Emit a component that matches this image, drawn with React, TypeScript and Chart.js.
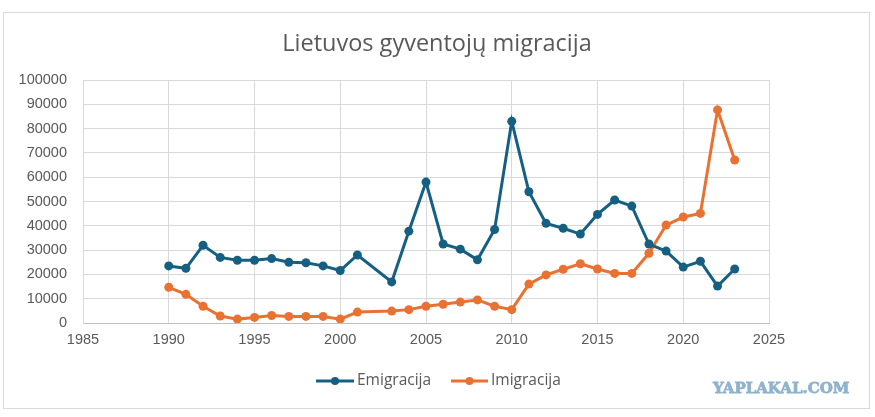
import React, { useEffect, useRef } from "react";
import { Chart, registerables } from "chart.js";

Chart.register(...registerables);

const years = [
  1990, 1991, 1992, 1993, 1994, 1995, 1996, 1997, 1998, 1999, 2000, 2001,
  2003, 2004, 2005, 2006, 2007, 2008, 2009, 2010, 2011, 2012, 2013, 2014,
  2015, 2016, 2017, 2018, 2019, 2020, 2021, 2022, 2023,
];

const emigracija = [
  23500, 22500, 32000, 27000, 25800, 25800, 26500, 25000, 24800, 23500, 21600,
  28000, 16900, 37800, 58000, 32500, 30400, 26000, 38500, 83000, 54000, 41000,
  39000, 36600, 44700, 50600, 48100, 32500, 29600, 23000, 25400, 15200, 22200,
];

const imigracija = [
  14700, 11800, 6900, 2900, 1600, 2300, 3100, 2700, 2700, 2700, 1600, 4500,
  4900, 5500, 6900, 7700, 8600, 9500, 6900, 5500, 16000, 19800, 22100, 24400,
  22200, 20400, 20400, 28700, 40300, 43600, 45100, 87700, 67100,
];

const seriesNames = ["Emigracija", "Imigracija"];
const seriesColors = ["#156082", "#E97132"];
const titleText = "Lietuvos gyventojų migracija";
const watermarkText = "YAPLAKAL.COM";

const overlayPlugin = {
  id: "overlay",
  afterDraw(chart: any) {
    const ctx = chart.ctx as CanvasRenderingContext2D;
    ctx.save();
    // Title
    ctx.fillStyle = "#595959";
    ctx.font = '23.5px "Open Sans"';
    ctx.textAlign = "center";
    ctx.textBaseline = "alphabetic";
    ctx.fillText(titleText, 437, 51);

    // Legend
    const items = [
      { x1: 316, x2: 354, tx: 357 },
      { x1: 451, x2: 488, tx: 491 },
    ];
    const ly = 381;
    ctx.font = '15.5px "Open Sans"';
    ctx.textAlign = "left";
    ctx.textBaseline = "middle";
    items.forEach((it, i) => {
      ctx.strokeStyle = seriesColors[i];
      ctx.lineWidth = 3;
      ctx.beginPath();
      ctx.moveTo(it.x1, ly);
      ctx.lineTo(it.x2, ly);
      ctx.stroke();
      ctx.fillStyle = seriesColors[i];
      ctx.beginPath();
      ctx.arc((it.x1 + it.x2) / 2, ly, 4, 0, Math.PI * 2);
      ctx.fill();
      ctx.fillStyle = "#595959";
      ctx.fillText(seriesNames[i], it.tx, ly);
    });

    // Watermark
    ctx.fillStyle = "#8FB3CC";
    ctx.strokeStyle = "#8FB3CC";
    ctx.lineWidth = 0.8;
    ctx.font = 'bold 15px "DejaVu Serif"';
    ctx.textAlign = "left";
    ctx.textBaseline = "alphabetic";
    ctx.fillText(watermarkText, 713, 393);
    ctx.strokeText(watermarkText, 713, 393);
    ctx.restore();
  },
};

export default function App() {
  const ref = useRef<HTMLCanvasElement | null>(null);

  useEffect(() => {
    if (!ref.current) return;
    const makeData = (vals: number[]) => years.map((x, i) => ({ x, y: vals[i] }));
    const chart = new Chart(ref.current, {
      type: "line",
      data: {
        datasets: [
          {
            label: seriesNames[0],
            data: makeData(emigracija),
            borderColor: seriesColors[0],
            backgroundColor: seriesColors[0],
            borderWidth: 3,
            pointRadius: 4.5,
            pointBorderWidth: 0,
            tension: 0,
          },
          {
            label: seriesNames[1],
            data: makeData(imigracija),
            borderColor: seriesColors[1],
            backgroundColor: seriesColors[1],
            borderWidth: 3,
            pointRadius: 4.5,
            pointBorderWidth: 0,
            tension: 0,
          },
        ],
      },
      options: {
        responsive: false,
        animation: false,
        layout: { padding: { left: 0, top: 80, right: 106, bottom: 64 } },
        plugins: {
          legend: { display: false },
          title: { display: false },
          tooltip: { enabled: false },
        },
        scales: {
          x: {
            type: "linear",
            min: 1985,
            max: 2025,
            afterFit: (s: any) => {
              s.height = 30;
            },
            ticks: {
              stepSize: 5,
              padding: 8,
              color: "#595959",
              font: { family: '"Liberation Sans"', size: 14.5 },
              callback: (v: any) => String(v),
            },
            grid: { color: "#d9d9d9", drawTicks: false },
            border: { color: "#bfbfbf" },
          },
          y: {
            min: 0,
            max: 100000,
            afterFit: (s: any) => {
              s.width = 83;
            },
            ticks: {
              stepSize: 10000,
              padding: 16,
              color: "#595959",
              font: { family: '"Liberation Sans"', size: 14.5 },
              callback: (v: any) => String(v),
            },
            grid: { color: "#d9d9d9", drawTicks: false },
            border: { color: "#d9d9d9" },
          },
        },
      },
      plugins: [overlayPlugin],
    });
    return () => chart.destroy();
  }, []);

  return (
    <div
      style={{
        position: "fixed",
        left: 0,
        top: 0,
        width: 875,
        height: 417,
        background: "#ffffff",
      }}
    >
      <div
        style={{
          position: "absolute",
          left: 3,
          top: 12,
          width: 865,
          height: 395,
          border: "1px solid #d9d9d9",
        }}
      />
      <canvas
        ref={ref}
        width={875}
        height={417}
        style={{ position: "absolute", left: 0, top: 0, width: 875, height: 417 }}
      />
    </div>
  );
}
